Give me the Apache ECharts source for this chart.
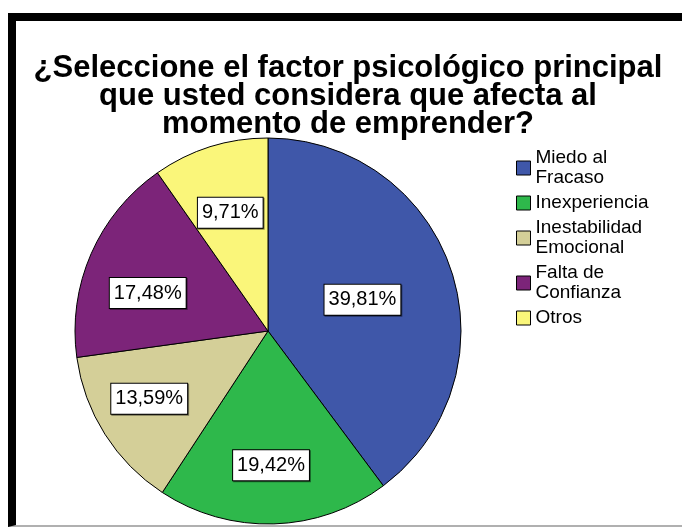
<!DOCTYPE html>
<html>
<head>
<meta charset="utf-8">
<script src="https://cdn.jsdelivr.net/npm/echarts@6/dist/echarts.min.js"></script>
<style>
  html, body { margin: 0; padding: 0; background: #ffffff; }
  #frame { position: absolute; left: 8px; top: 13px; width: 700px; height: 504px;
           border-left: 8px solid #000; border-top: 8px solid #000; border-bottom: 2px solid #b0b0b0; }
  #chart { position: absolute; left: 0; top: 0; width: 682px; height: 527px; }
</style>
</head>
<body>
<div id="frame"></div>
<div id="chart"></div>
<script>
const titleText = '¿Seleccione el factor psicológico principal\nque usted considera que afecta al\nmomento de emprender?';
const categories = ['Miedo al\nFracaso', 'Inexperiencia', 'Inestabilidad\nEmocional', 'Falta de\nConfianza', 'Otros'];
const percentages = [39.81, 19.42, 13.59, 17.48, 9.71];
const colors = ['#3F57A9', '#2EB84B', '#D4CF98', '#7C2479', '#FAF67A'];

const FONT = '"Liberation Sans", Arial, sans-serif';
const R = 193;
// small nudges so the label boxes sit where the reference puts them
const labelNudge = [[0, 0], [-1, 2], [-7, -3], [1, 15], [2, 8]];

function fmt(p) { return p.value.toFixed(2).replace('.', ',') + '%'; }

const labelBox = {
  show: true,
  position: 'inside',
  formatter: fmt,
  color: '#000',
  fontFamily: FONT,
  fontSize: 20,
  backgroundColor: '#ffffff',
  borderColor: '#000',
  borderWidth: 1,
  padding: [6, 4, 4, 4],
  shadowColor: 'rgba(0,0,0,0.45)',
  shadowOffsetX: 1,
  shadowOffsetY: 1,
  shadowBlur: 0
};

const mainData = categories.map((c, i) => ({
  name: c,
  value: percentages[i],
  itemStyle: { color: colors[i] },
  label: i === 0 ? labelBox : { show: false }
}));

const labelData = categories.map((c, i) => ({
  name: c,
  value: percentages[i],
  itemStyle: { color: 'rgba(0,0,0,0)', borderWidth: 0 },
  label: i === 0 ? { show: false } : labelBox
}));

const chart = echarts.init(document.getElementById('chart'), null, { renderer: 'canvas' });
chart.setOption({
  backgroundColor: 'transparent',
  animation: false,
  title: {
    text: titleText,
    left: 343,
    textAlign: 'center',
    top: 49,
    textStyle: { fontFamily: FONT, fontWeight: 'bold', fontSize: 31, lineHeight: 28, color: '#000' }
  },
  legend: {
    orient: 'vertical',
    left: 516,
    top: 148,
    padding: 0,
    itemWidth: 14,
    itemHeight: 14,
    itemGap: 5,
    icon: 'rect',
    data: categories,
    itemStyle: { borderColor: '#000', borderWidth: 1 },
    textStyle: { fontFamily: FONT, fontSize: 19, lineHeight: 20, color: '#000' }
  },
  color: colors,
  series: [
    {
      type: 'pie',
      center: [268, 331],
      radius: [0, R],
      startAngle: 90,
      clockwise: true,
      silent: true,
      itemStyle: { borderColor: '#000', borderWidth: 1 },
      labelLine: { show: false },
      emphasis: { disabled: true },
      data: mainData
    },
    {
      type: 'pie',
      center: [268, 331],
      radius: [0, R * 1.34],
      startAngle: 90,
      clockwise: true,
      silent: true,
      legendHoverLink: false,
      labelLine: { show: false },
      emphasis: { disabled: true },
      labelLayout: function (p) {
        const n = labelNudge[p.dataIndex];
        return { dx: n[0], dy: n[1] };
      },
      data: labelData
    }
  ]
});
</script>
</body>
</html>
